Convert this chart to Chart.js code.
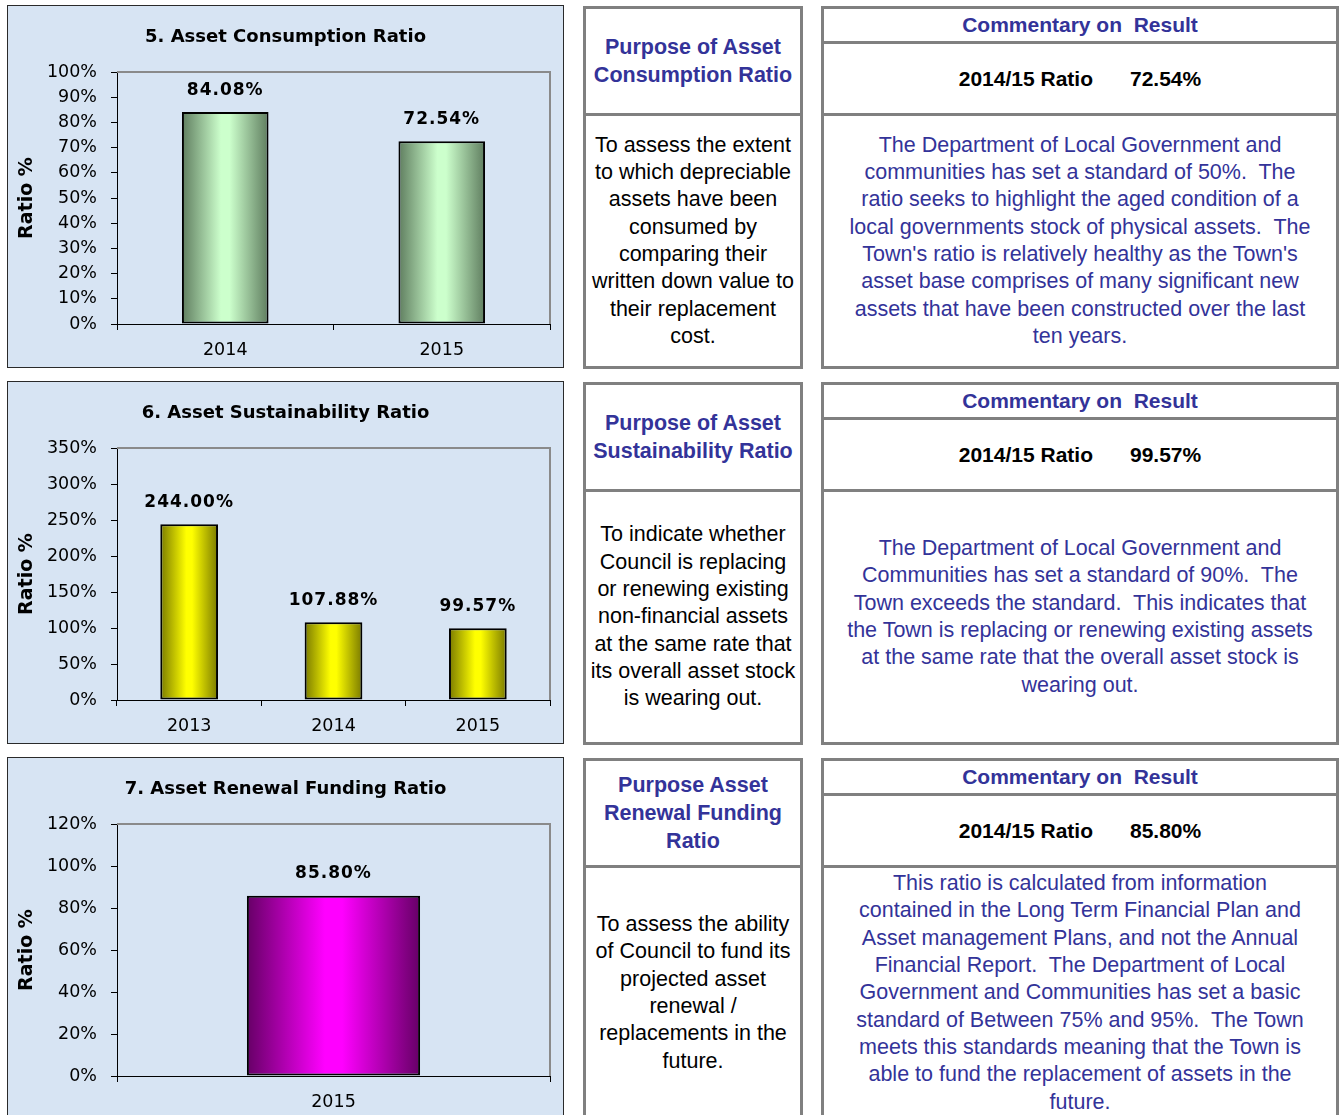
<!DOCTYPE html>
<html>
<head>
<meta charset="utf-8">
<script src="https://cdn.jsdelivr.net/npm/chart.js@4"></script>
<style>
  body { margin: 0; width: 1342px; height: 1115px; overflow: hidden; background: #fff; position: relative; }
  .panel { position: absolute; left: 7px; width: 557px; height: 363px; box-sizing: border-box;
           border: 1px solid #2a2a2a; background: #d7e4f3; }
  .panel canvas { position: absolute; left: 0; top: 0; }
  .box { position: absolute; box-sizing: border-box; border: 3px solid #808080; background: #fff;
         font-family: "Liberation Sans", Arial, sans-serif; font-size: 21.5px; text-align: center;
         display: flex; flex-direction: column; white-space: nowrap; }
  .purpose { left: 583px; width: 220px; height: 363px; }
  .comment { left: 821px; width: 518px; height: 363px; }
  .head { border-bottom: 3px solid #808080; display: flex; align-items: center; justify-content: center;
          font-weight: bold; color: #333399; }
  .purpose .head { height: 104px; line-height: 28px; }
  .comment .h1 { height: 32px; font-size: 21px; }
  .comment .h2 { height: 69px; color: #000; font-size: 21px; }
  .body { flex: 1; display: flex; align-items: center; justify-content: center; line-height: 27.3px; }
  .purpose .body { color: #000; }
  .comment .body { color: #333399; }
</style>
</head>
<body>

<div class="panel" style="top:5px"><canvas id="chart5"></canvas></div>
<div class="panel" style="top:381px"><canvas id="chart6"></canvas></div>
<div class="panel" style="top:757px"><canvas id="chart7"></canvas></div>

<div class="box purpose" style="top:6px">
  <div class="head">Purpose of Asset<br>Consumption Ratio</div>
  <div class="body">To assess the extent<br>to which depreciable<br>assets have been<br>consumed by<br>comparing their<br>written down value to<br>their replacement<br>cost.</div>
</div>
<div class="box comment" style="top:6px">
  <div class="head h1">Commentary on&nbsp; Result</div>
  <div class="head h2">2014/15 Ratio<span style="margin-left:37px">72.54%</span></div>
  <div class="body">The Department of Local Government and<br>communities has set a standard of 50%.&nbsp; The<br>ratio seeks to highlight the aged condition of a<br>local governments stock of physical assets.&nbsp; The<br>Town's ratio is relatively healthy as the Town's<br>asset base comprises of many significant new<br>assets that have been constructed over the last<br>ten years.</div>
</div>

<div class="box purpose" style="top:382px">
  <div class="head">Purpose of Asset<br>Sustainability Ratio</div>
  <div class="body">To indicate whether<br>Council is replacing<br>or renewing existing<br>non-financial assets<br>at the same rate that<br>its overall asset stock<br>is wearing out.</div>
</div>
<div class="box comment" style="top:382px">
  <div class="head h1">Commentary on&nbsp; Result</div>
  <div class="head h2">2014/15 Ratio<span style="margin-left:37px">99.57%</span></div>
  <div class="body">The Department of Local Government and<br>Communities has set a standard of 90%.&nbsp; The<br>Town exceeds the standard.&nbsp; This indicates that<br>the Town is replacing or renewing existing assets<br>at the same rate that the overall asset stock is<br>wearing out.</div>
</div>

<div class="box purpose" style="top:758px">
  <div class="head">Purpose Asset<br>Renewal Funding<br>Ratio</div>
  <div class="body">To assess the ability<br>of Council to fund its<br>projected asset<br>renewal /<br>replacements in the<br>future.</div>
</div>
<div class="box comment" style="top:758px">
  <div class="head h1">Commentary on&nbsp; Result</div>
  <div class="head h2">2014/15 Ratio<span style="margin-left:37px">85.80%</span></div>
  <div class="body">This ratio is calculated from information<br>contained in the Long Term Financial Plan and<br>Asset management Plans, and not the Annual<br>Financial Report.&nbsp; The Department of Local<br>Government and Communities has set a basic<br>standard of Between 75% and 95%.&nbsp; The Town<br>meets this standards meaning that the Town is<br>able to fund the replacement of assets in the<br>future.</div>
</div>

<script>
// Chart data
const consumptionYears = ['2014', '2015'];
const consumptionRatio = [84.08, 72.54];

const sustainabilityYears = ['2013', '2014', '2015'];
const sustainabilityRatio = [244.00, 107.88, 99.57];

const renewalYears = ['2015'];
const renewalRatio = [85.80];

const chartFont = '"DejaVu Sans", Verdana, sans-serif';

// Bar fill: dark at the edges, bright in the middle
function barGradient(edge, centre) {
    return function(context) {
        const chart = context.chart;
        const xScale = chart.scales.x;
        if (!chart.chartArea || !xScale) return centre;
        const n = chart.data.labels.length;
        const w = (xScale.right - xScale.left) / n * 0.4;
        const cx = xScale.getPixelForValue(context.dataIndex);
        const g = chart.ctx.createLinearGradient(cx - w / 2, 0, cx + w / 2, 0);
        g.addColorStop(0, edge);
        g.addColorStop(0.45, centre);
        g.addColorStop(0.55, centre);
        g.addColorStop(1, edge);
        return g;
    };
}

// Value labels above each bar
const valueLabels = {
    id: 'valueLabels',
    afterDatasetsDraw(chart) {
        const ctx = chart.ctx;
        const meta = chart.getDatasetMeta(0);
        const values = chart.data.datasets[0].data;
        ctx.save();
        ctx.font = 'bold 17px ' + chartFont;
        ctx.letterSpacing = '1px';
        ctx.fillStyle = '#000';
        ctx.textAlign = 'center';
        ctx.textBaseline = 'middle';
        meta.data.forEach((bar, i) => {
            ctx.fillText(values[i].toFixed(2) + '%', bar.x, bar.y - 22);
        });
        ctx.restore();
    }
};

// Grey frame on the top and right of the plot area
const plotFrame = {
    id: 'plotFrame',
    beforeDatasetsDraw(chart) {
        const {ctx, chartArea} = chart;
        ctx.save();
        ctx.strokeStyle = '#8a8a8a';
        ctx.lineWidth = 2;
        ctx.beginPath();
        ctx.moveTo(chartArea.left, chartArea.top);
        ctx.lineTo(chartArea.right, chartArea.top);
        ctx.lineTo(chartArea.right, chartArea.bottom);
        ctx.stroke();
        ctx.restore();
    }
};

function makeChart(id, title, labels, values, maxY, step, edge, centre) {
    const canvas = document.getElementById(id);
    canvas.width = 555;
    canvas.height = 361;
    canvas.style.width = '555px';
    canvas.style.height = '361px';
    return new Chart(canvas.getContext('2d'), {
        type: 'bar',
        data: {
            labels: labels,
            datasets: [{
                data: values,
                backgroundColor: barGradient(edge, centre),
                borderColor: '#000',
                borderWidth: 2,
                borderSkipped: false,
                barPercentage: 0.4,
                categoryPercentage: 1
            }]
        },
        options: {
            responsive: false,
            animation: false,
            devicePixelRatio: 1,
            layout: { padding: { right: 13, left: 13, top: 0, bottom: 0 } },
            plugins: {
                legend: { display: false },
                tooltip: { enabled: false },
                title: {
                    display: true,
                    text: title,
                    color: '#000',
                    font: { family: chartFont, size: 18, weight: 'bold' },
                    padding: { top: 21, bottom: 23.4 }
                }
            },
            scales: {
                y: {
                    min: 0,
                    max: maxY,
                    ticks: {
                        stepSize: step,
                        padding: 14,
                        color: '#000',
                        font: { family: chartFont, size: 17.5 },
                        callback: v => v + '%'
                    },
                    grid: { drawOnChartArea: false, tickLength: 6, tickColor: '#000' },
                    border: { color: '#000', width: 1 },
                    title: {
                        display: true,
                        text: 'Ratio %',
                        color: '#000',
                        font: { family: chartFont, size: 19, weight: 'bold' },
                        padding: { top: -5, bottom: 0 }
                    },
                    afterFit(scale) { scale.width = 96; }
                },
                x: {
                    ticks: {
                        padding: 10,
                        color: '#000',
                        font: { family: chartFont, size: 17.5 }
                    },
                    grid: { drawOnChartArea: false, tickLength: 6, tickColor: '#000' },
                    border: { color: '#000', width: 1 },
                    afterFit(scale) { scale.height = 43; }
                }
            }
        },
        plugins: [plotFrame, valueLabels]
    });
}

makeChart('chart5', '5. Asset Consumption Ratio', consumptionYears, consumptionRatio, 100, 10, '#5f7d5f', '#ccffcc');
makeChart('chart6', '6. Asset Sustainability Ratio', sustainabilityYears, sustainabilityRatio, 350, 50, '#7a7a00', '#ffff00');
makeChart('chart7', '7. Asset Renewal Funding Ratio', renewalYears, renewalRatio, 120, 20, '#660066', '#ff00ff');
</script>
</body>
</html>
